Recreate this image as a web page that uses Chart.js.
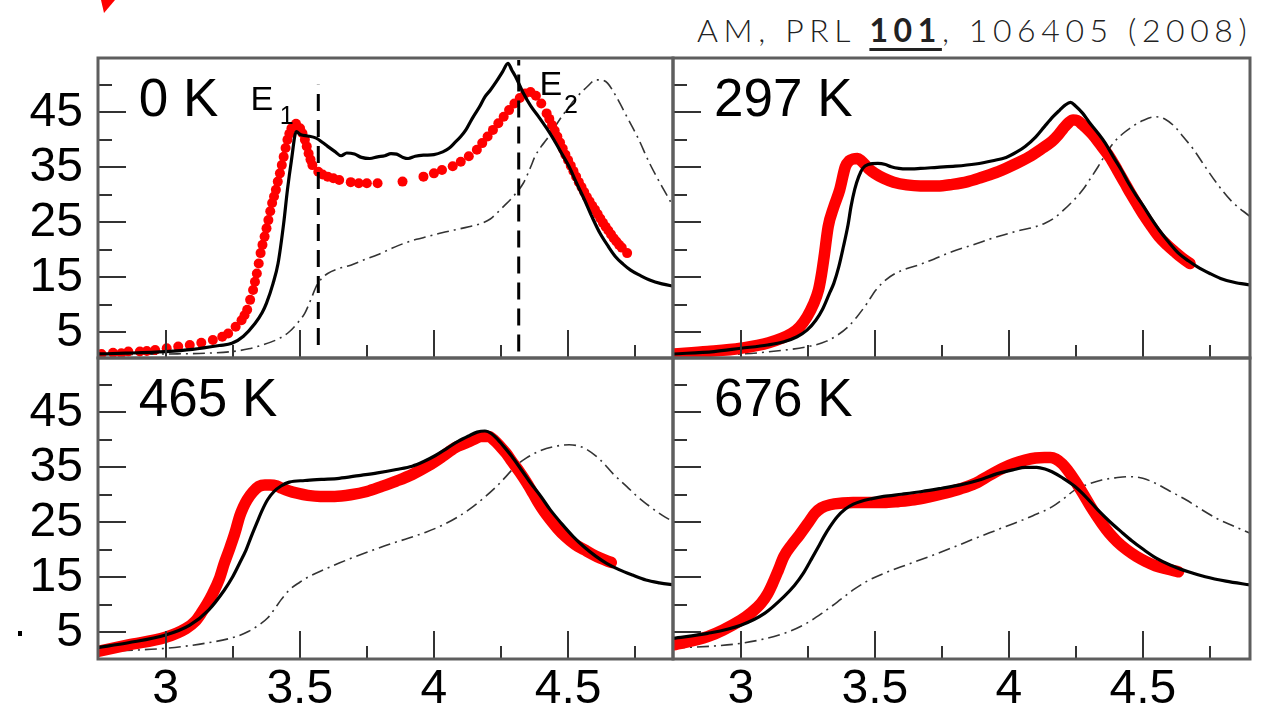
<!DOCTYPE html>
<html>
<head>
<meta charset="utf-8">
<script src="https://cdn.jsdelivr.net/npm/chart.js@4.4.1/dist/chart.umd.min.js"></script>
<style>
  html, body { margin: 0; padding: 0; background: #fff; }
  body { width: 1270px; height: 724px; position: relative; overflow: hidden; }
  canvas { position: absolute; }
  #cite { position: absolute; left: 697px; top: 10px; font-family: Lato, "DejaVu Sans", sans-serif; font-weight: 300;
          font-size: 32px; letter-spacing: 5.6px; color: #222; white-space: nowrap; }
  #cite u { font-weight: 700; text-decoration-thickness: 3px; text-underline-offset: 6px; }
</style>
</head>
<body>
<svg width="130" height="20" style="position:absolute;left:0;top:0"><polygon points="101,0 115,0 104,13" fill="#f00"/></svg>
<div id="cite">AM, PRL <u>101</u>, 106405 (2008)</div>
<div style="position:absolute;left:18px;top:631px;width:4px;height:5px;background:#000"></div>
<canvas id="p0" width="690" height="330" style="left:0;top:40px"></canvas>
<canvas id="p1" width="610" height="330" style="left:660px;top:40px"></canvas>
<canvas id="p2" width="690" height="384" style="left:0;top:340px"></canvas>
<canvas id="p3" width="610" height="384" style="left:660px;top:340px"></canvas>
<script>
// panel titles and axis ticks
const panelLabels = ["0 K", "297 K", "465 K", "676 K"];
const xTicks = [3, 3.5, 4, 4.5];
const xMinorTicks = [2.75, 3.25, 3.75, 4.25, 4.75];
const yTicks = [5, 15, 25, 35, 45];
const yMinorTicks = [0, 10, 20, 30, 40, 50];

// E1 / E2 markers in the 0 K panel
const E1 = 3.569, E2 = 4.316;
const e1Span = [2.7, 50];
const e2Span = [1.5, 54.5];

// black solid = theory, red = experiment, dash-dot = theory without e-h interaction
const theory0K = [[2.744,1.06],[2.85,1.2],[3.0,1.5],[3.1,1.9],[3.2,2.6],[3.247,3.0],[3.29,4.3],[3.333,6.6],[3.36,8.6],[3.376,10.3],
  [3.40,13.8],[3.419,17.5],[3.44,24.8],[3.454,30.9],[3.469,36.3],[3.487,41.5],[3.504,40.9],[3.53,40.7],[3.561,40.3],[3.585,39.5],
  [3.604,38.8],[3.63,37.9],[3.654,37.1],[3.675,37.6],[3.704,37.4],[3.73,36.8],[3.761,36.6],[3.79,36.9],[3.817,37.1],[3.84,37.5],
  [3.861,37.4],[3.885,36.8],[3.904,36.6],[3.93,37.0],[3.961,37.2],[4.0,37.3],[4.033,37.8],[4.055,38.4],[4.076,39.4],[4.10,40.6],
  [4.119,41.8],[4.135,43.2],[4.147,44.2],[4.17,46.0],[4.19,47.8],[4.21,49.0],[4.233,50.6],[4.255,52.3],[4.276,53.9],[4.29,52.7],
  [4.304,51.5],[4.333,48.5],[4.36,46.2],[4.39,44.2],[4.42,42.1],[4.447,40.0],[4.475,37.6],[4.504,35.1],[4.53,32.3],[4.561,29.1],
  [4.59,25.9],[4.619,23.0],[4.65,20.6],[4.676,18.8],[4.705,17.4],[4.733,16.3],[4.77,15.3],[4.804,14.5],[4.85,13.8],[4.9,13.3]];
const exp0K = [[2.761,1.06],[2.804,1.3],[2.835,1.2],[2.861,1.5],[2.904,1.5],[2.93,1.6],[2.961,1.8],[3.004,2.1],[3.047,2.4],[3.09,2.7],
  [3.133,3.1],[3.176,3.6],[3.211,4.2],[3.233,4.8],[3.261,6.0],[3.283,7.2],[3.294,8.1],[3.304,9.1],[3.315,10.9],[3.326,12.7],
  [3.333,14.2],[3.34,15.7],[3.347,17.5],[3.354,19.4],[3.361,20.9],[3.369,22.4],[3.376,23.9],[3.383,25.4],[3.39,27.0],[3.397,28.5],
  [3.404,29.7],[3.411,30.9],[3.418,32.4],[3.426,33.9],[3.433,35.4],[3.44,36.9],[3.447,38.5],[3.454,40.0],[3.461,41.1],[3.469,42.1],
  [3.486,42.9],[3.501,42.1],[3.51,41.2],[3.519,40.0],[3.526,38.8],[3.533,37.5],[3.54,36.4],[3.547,35.4],[3.569,34.2],[3.585,33.7],
  [3.604,33.3],[3.625,33.0],[3.647,32.7],[3.69,32.3],[3.72,32.1],[3.75,32.1],[3.79,32.1],
  [3.883,32.4],[3.961,33.3],[4.0,33.9],[4.03,34.5],[4.07,35.2],[4.10,36.0],[4.13,37.0],[4.16,38.2],[4.18,39.4],[4.20,40.6],
  [4.22,41.8],[4.24,43.0],[4.26,44.2],[4.28,45.4],[4.30,46.6],[4.32,47.6],[4.34,48.4],[4.36,48.7],[4.38,48.0],[4.40,46.6],
  [4.42,44.8],[4.43,43.8],[4.44,42.7],[4.45,41.7],[4.46,40.6],[4.47,39.5],[4.48,38.4],[4.49,37.3],[4.50,36.3],[4.51,35.3],
  [4.52,34.3],[4.53,33.3],[4.54,32.3],[4.55,31.4],[4.56,30.5],[4.57,29.6],[4.58,28.8],[4.59,28.0],[4.60,27.3],[4.61,26.5],
  [4.62,25.7],[4.63,24.9],[4.64,24.2],[4.65,23.5],[4.66,22.8],[4.67,22.1],[4.68,21.5],[4.69,20.9],[4.70,20.4],[4.72,19.4]];
const noeh0K = [[2.744,0.9],[3.004,1.06],[3.15,1.2],[3.247,1.5],[3.31,2.0],[3.361,2.7],[3.42,3.8],[3.461,5.1],[3.49,6.6],[3.519,8.5],
  [3.54,10.8],[3.561,13.3],[3.58,14.7],[3.604,15.7],[3.64,16.5],[3.69,17.2],[3.74,18.2],[3.79,19.1],[3.84,20.2],[3.89,21.2],
  [3.935,21.9],[3.976,22.4],[4.03,23.1],[4.076,23.6],[4.13,24.2],[4.176,24.8],[4.21,25.6],[4.233,26.6],[4.26,27.9],[4.29,29.4],
  [4.333,32.1],[4.36,35.0],[4.376,36.9],[4.40,38.8],[4.419,40.0],[4.45,42.3],[4.476,44.2],[4.505,46.1],[4.533,47.8],[4.57,49.6],
  [4.604,50.9],[4.63,50.8],[4.647,50.3],[4.68,47.8],[4.719,44.2],[4.76,40.4],[4.804,35.7],[4.85,31.5],[4.9,27.2]];

const theory297 = [[2.747,1.06],[2.9,1.5],[3.0,2.1],[3.1,2.7],[3.161,3.3],[3.21,4.2],[3.247,5.4],[3.28,7.2],[3.304,9.1],[3.33,12.0],
  [3.347,13.9],[3.365,16.8],[3.383,20.6],[3.40,24.5],[3.411,27.8],[3.425,31.0],[3.44,33.3],[3.455,34.8],[3.475,35.5],[3.511,35.7],
  [3.54,35.5],[3.561,35.1],[3.59,34.8],[3.619,34.7],[3.67,34.8],[3.733,35.0],[3.80,35.2],[3.876,35.6],[3.94,36.2],[3.99,36.8],
  [4.03,37.8],[4.061,38.8],[4.10,40.5],[4.133,42.4],[4.165,44.2],[4.19,45.4],[4.21,46.3],[4.23,46.8],[4.25,46.1],[4.276,44.8],
  [4.30,43.2],[4.333,41.2],[4.36,39.4],[4.39,36.9],[4.42,34.5],[4.447,32.1],[4.475,29.9],[4.504,27.8],[4.53,25.8],[4.561,23.6],
  [4.60,21.2],[4.633,19.4],[4.67,18.0],[4.704,16.9],[4.75,15.7],[4.79,14.8],[4.84,14.1],[4.901,13.6]];
const exp297 = [[2.747,1.06],[2.876,1.5],[3.0,2.1],[3.104,3.1],[3.19,4.8],[3.22,6.0],[3.247,7.8],[3.27,10.0],[3.29,12.7],[3.301,15.5],
  [3.311,18.8],[3.326,24.2],[3.347,27.8],[3.369,30.9],[3.39,35.1],[3.405,36.2],[3.419,36.5],[3.435,36.6],[3.447,36.3],[3.476,34.8],
  [3.50,33.9],[3.533,33.0],[3.57,32.3],[3.619,31.8],[3.67,31.6],[3.733,31.6],[3.79,31.9],[3.847,32.4],[3.90,33.2],[3.961,34.2],
  [4.02,35.5],[4.076,36.9],[4.12,38.3],[4.161,39.7],[4.185,40.9],[4.204,42.1],[4.225,43.2],[4.24,43.6],[4.255,43.5],[4.276,42.7],
  [4.30,41.6],[4.319,40.6],[4.35,38.6],[4.376,36.9],[4.405,34.5],[4.433,32.1],[4.455,30.2],[4.476,28.5],[4.505,26.2],[4.533,24.2],
  [4.56,22.4],[4.59,20.9],[4.62,19.6],[4.647,18.5],[4.676,17.5]];
const noeh297 = [[2.747,0.88],[3.0,1.06],[3.15,1.7],[3.261,2.5],[3.32,3.4],[3.361,4.5],[3.40,6.0],[3.433,7.8],[3.47,10.2],[3.504,12.7],
  [3.54,14.5],[3.576,15.7],[3.62,16.6],[3.661,17.2],[3.72,18.3],[3.79,19.7],[3.86,20.8],[3.919,21.8],[3.98,22.7],[4.047,23.6],
  [4.10,24.2],[4.133,24.8],[4.17,25.8],[4.204,27.2],[4.24,28.9],[4.276,30.9],[4.305,33.0],[4.333,35.1],[4.36,37.3],[4.39,39.4],
  [4.425,41.1],[4.461,42.4],[4.50,43.5],[4.547,44.2],[4.585,43.7],[4.619,42.4],[4.65,40.6],[4.69,38.2],[4.73,35.3],[4.776,32.1],
  [4.83,28.9],[4.901,26.0]];

const theory465 = [[2.744,2.2],[2.861,3.1],[3.0,4.5],[3.09,6.3],[3.161,9.1],[3.219,12.7],[3.25,15.1],[3.276,17.6],[3.30,20.0],[3.319,22.4],
  [3.34,24.9],[3.361,27.3],[3.38,29.1],[3.404,30.6],[3.43,31.6],[3.461,32.3],[3.519,32.6],[3.58,32.8],[3.647,33.0],[3.72,33.5],
  [3.79,34.0],[3.86,34.6],[3.919,35.2],[3.96,36.0],[4.004,37.1],[4.05,38.5],[4.09,39.7],[4.13,40.7],[4.161,41.4],[4.19,41.6],
  [4.215,41.1],[4.233,40.3],[4.26,38.8],[4.29,37.0],[4.325,34.6],[4.361,32.1],[4.40,29.6],[4.433,27.3],[4.475,24.8],[4.519,22.4],
  [4.56,20.5],[4.604,18.8],[4.645,17.5],[4.69,16.4],[4.74,15.4],[4.79,14.5],[4.84,14.0],[4.9,13.6]];
const exp465 = [[2.744,1.5],[2.861,2.7],[3.0,4.1],[3.076,5.7],[3.11,7.0],[3.133,8.5],[3.155,10.2],[3.176,12.1],[3.2,14.7],[3.219,17.6],
  [3.237,20.0],[3.254,22.4],[3.265,24.2],[3.276,26.1],[3.29,27.8],[3.304,29.1],[3.325,30.5],[3.347,31.5],[3.37,31.8],[3.39,31.8],
  [3.415,31.6],[3.433,31.2],[3.46,30.7],[3.49,30.3],[3.53,29.9],[3.576,29.7],[3.63,29.7],[3.69,30.0],[3.75,30.6],[3.804,31.5],
  [3.86,32.5],[3.919,33.7],[3.98,35.3],[4.033,37.0],[4.08,38.6],[4.119,39.4],[4.15,40.1],[4.176,40.6],[4.204,40.6],[4.225,39.9],
  [4.247,38.8],[4.27,37.5],[4.29,36.1],[4.32,34.1],[4.347,32.1],[4.37,30.2],[4.39,28.5],[4.41,27.0],[4.433,25.5],[4.46,23.9],
  [4.49,22.4],[4.525,21.0],[4.561,20.0],[4.59,19.2],[4.619,18.5],[4.661,17.7]];
const noeh465 = [[2.744,1.5],[3.0,2.1],[3.147,3.0],[3.261,4.2],[3.31,5.2],[3.347,6.3],[3.38,7.6],[3.404,9.1],[3.43,10.9],[3.461,12.7],
  [3.50,14.1],[3.533,15.1],[3.59,16.4],[3.647,17.6],[3.71,18.8],[3.776,20.0],[3.84,21.1],[3.904,22.1],[3.97,23.2],[4.033,24.5],
  [4.09,26.0],[4.147,27.9],[4.19,29.6],[4.233,31.5],[4.27,33.4],[4.304,35.2],[4.345,36.7],[4.39,37.9],[4.45,38.8],[4.504,39.1],
  [4.56,38.5],[4.619,36.4],[4.67,33.7],[4.719,31.5],[4.76,29.6],[4.804,27.9],[4.85,26.3],[4.9,24.9]];

const theory676 = [[2.747,3.9],[2.876,4.8],[3.0,6.3],[3.09,8.5],[3.161,11.5],[3.20,13.5],[3.233,15.7],[3.26,18.0],[3.29,20.6],[3.31,22.4],
  [3.333,24.2],[3.36,26.0],[3.39,27.4],[3.42,28.3],[3.447,28.8],[3.49,29.3],[3.533,29.7],[3.60,30.1],[3.676,30.6],[3.75,31.2],
  [3.819,31.8],[3.89,32.7],[3.961,33.9],[4.02,34.6],[4.061,35.0],[4.104,35.0],[4.135,34.7],[4.161,34.2],[4.20,33.1],[4.247,31.5],
  [4.29,29.5],[4.333,27.2],[4.375,25.2],[4.419,23.3],[4.46,21.6],[4.504,20.0],[4.55,18.5],[4.604,17.2],[4.67,16.0],[4.733,15.1],
  [4.81,14.3],[4.901,13.6]];
const exp676 = [[2.747,2.7],[2.876,4.2],[3.0,7.2],[3.04,8.6],[3.076,10.3],[3.10,12.0],[3.119,13.9],[3.14,16.3],[3.161,18.8],[3.19,20.9],
  [3.219,22.7],[3.25,24.8],[3.276,26.6],[3.30,27.6],[3.333,28.2],[3.38,28.5],[3.419,28.6],[3.48,28.6],[3.533,28.6],[3.59,28.8],
  [3.647,29.1],[3.70,29.6],[3.761,30.3],[3.82,31.1],[3.876,32.1],[3.93,33.6],[3.976,34.8],[4.02,35.7],[4.061,36.3],[4.10,36.7],
  [4.133,36.8],[4.155,36.8],[4.176,36.5],[4.20,35.6],[4.219,34.5],[4.245,32.7],[4.276,30.3],[4.31,27.5],[4.347,24.8],[4.375,23.0],
  [4.404,21.5],[4.44,20.0],[4.476,18.8],[4.51,17.9],[4.547,17.1],[4.59,16.5],[4.633,16.0]];
const noeh676 = [[2.747,2.1],[3.0,3.0],[3.161,4.8],[3.24,6.5],[3.304,8.5],[3.36,10.5],[3.419,12.7],[3.475,14.4],[3.533,15.7],[3.62,17.3],
  [3.704,18.8],[3.79,20.4],[3.876,22.1],[3.95,23.5],[4.019,24.8],[4.09,26.2],[4.161,27.8],[4.21,29.5],[4.247,30.9],[4.30,32.0],
  [4.347,32.7],[4.40,33.1],[4.447,33.3],[4.50,33.0],[4.547,32.1],[4.60,30.7],[4.661,29.1],[4.72,27.3],[4.776,25.7],[4.84,24.3],
  [4.901,23.0]];

const FONT = '"Liberation Sans", Arial, Helvetica, sans-serif';
Chart.defaults.font.family = FONT;

const toXY = arr => arr.map(([x, y]) => ({ x, y }));

// inward ticks, box frame and in-panel text
const panelDecor = {
  id: "panelDecor",
  afterDatasetsDraw(chart, args, opts) {
    const { ctx, chartArea: a } = chart;
    const x = chart.scales.x, y = chart.scales.y;
    ctx.save();
    ctx.strokeStyle = "#333";
    ctx.lineWidth = 2;
    yMinorTicks.concat(yTicks).forEach(v => {
      const py = Math.round(y.getPixelForValue(v));
      if (py < a.top + 2 || py > a.bottom - 2) return;
      const len = yTicks.includes(v) ? 28 : 14;
      ctx.beginPath(); ctx.moveTo(a.left, py); ctx.lineTo(a.left + len, py); ctx.stroke();
    });
    xMinorTicks.concat(xTicks).forEach(v => {
      const px = Math.round(x.getPixelForValue(v));
      if (px < a.left + 2 || px > a.right - 2) return;
      const len = xTicks.includes(v) ? 28 : 13;
      ctx.beginPath(); ctx.moveTo(px, a.bottom); ctx.lineTo(px, a.bottom - len); ctx.stroke();
    });
    ctx.strokeStyle = "#5e5e5e";
    ctx.lineWidth = 3;
    ctx.strokeRect(a.left, a.top, a.right - a.left, a.bottom - a.top);

    ctx.fillStyle = "#000";
    ctx.textAlign = "left";
    ctx.textBaseline = "alphabetic";
    ctx.font = "53px " + FONT;
    ctx.fillText(opts.label, x.getPixelForValue(2.90), y.getPixelForValue(44.3));
    if (opts.marks) {
      ctx.font = "34px " + FONT;
      ctx.fillText("E", x.getPixelForValue(3.316), y.getPixelForValue(45.4));
      ctx.fillText("E", x.getPixelForValue(4.393), y.getPixelForValue(48.1));
      ctx.font = "25px " + FONT;
      ctx.fillText("1", x.getPixelForValue(3.425), y.getPixelForValue(42.85));
      ctx.fillText("2", x.getPixelForValue(4.485), y.getPixelForValue(44.9));
    }
    ctx.restore();
  }
};

const panels = [
  { id: "p0", series: [theory0K, exp0K, noeh0K], dots: true, marks: true, left: true, bottom: false, xr: [2.748, 4.891], yr: [0.33, 54.87] },
  { id: "p1", series: [theory297, exp297, noeh297], left: false, bottom: false, xr: [2.747, 4.9], yr: [0.33, 54.87] },
  { id: "p2", series: [theory465, exp465, noeh465], left: true, bottom: true, xr: [2.748, 4.891], yr: [0.15, 54.87] },
  { id: "p3", series: [theory676, exp676, noeh676], left: false, bottom: true, xr: [2.747, 4.9], yr: [0.15, 54.87] }
];

panels.forEach((p, i) => {
  const [theory, exp, noeh] = p.series;
  const datasets = [
    { data: toXY(theory), borderColor: "#000", borderWidth: 3.2, pointRadius: 0, cubicInterpolationMode: "monotone" }
  ];
  if (p.marks) {
    [[E1, e1Span], [E2, e2Span]].forEach(([e, span]) => {
      datasets.push({ data: span.map(v => ({ x: e, y: v })), borderColor: "#000", borderWidth: 3,
        borderDash: [17, 9], pointRadius: 0, tension: 0 });
    });
  }
  if (p.dots) {
    datasets.push({ data: toXY(exp), showLine: false, pointRadius: 5, pointBorderWidth: 0,
      pointBackgroundColor: "#f00", borderColor: "#f00" });
  } else {
    datasets.push({ data: toXY(exp), borderColor: "#f00", borderWidth: 11.5, pointRadius: 0,
      borderCapStyle: "round", borderJoinStyle: "round", cubicInterpolationMode: "monotone" });
  }
  datasets.push({ data: toXY(noeh), borderColor: "#333", borderWidth: 1.6, borderDash: [12, 5, 2, 5],
    pointRadius: 0, cubicInterpolationMode: "monotone" });

  new Chart(document.getElementById(p.id), {
    type: "line",
    data: { datasets },
    options: {
      responsive: false,
      animation: false,
      events: [],
      layout: { padding: { left: p.left ? 0 : 13, right: p.left ? 17 : 20, top: 18, bottom: p.bottom ? 0 : 12 } },
      plugins: { legend: { display: false }, tooltip: { enabled: false }, panelDecor: { label: panelLabels[i], marks: !!p.marks } },
      scales: {
        x: {
          type: "linear", min: p.xr[0], max: p.xr[1],
          grid: { display: false, drawTicks: false }, border: { display: false },
          afterBuildTicks: s => { s.ticks = xTicks.map(v => ({ value: v })); },
          afterFit: s => { s.height = p.bottom ? 65 : 0; s.paddingLeft = 0; s.paddingRight = 0; },
          ticks: { display: p.bottom, padding: 2, color: "#000", autoSkip: false, maxRotation: 0,
            font: { size: 48 }, callback: v => String(v) }
        },
        y: {
          type: "linear", min: p.yr[0], max: p.yr[1],
          grid: { display: false, drawTicks: false }, border: { display: false },
          afterBuildTicks: s => { s.ticks = yTicks.map(v => ({ value: v })); },
          afterFit: s => { s.width = p.left ? 98 : 0; s.paddingTop = 0; s.paddingBottom = 0; },
          ticks: { display: p.left, padding: 15, color: "#000", autoSkip: false,
            font: { size: 48 }, callback: v => String(v) }
        }
      }
    },
    plugins: [panelDecor]
  });
});
</script>
</body>
</html>
